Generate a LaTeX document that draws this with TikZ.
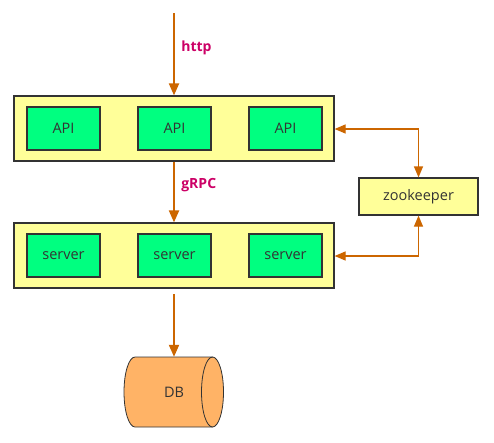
\documentclass[tikz,border=0pt]{standalone}
\usepackage{fontspec}
\setmainfont{Open Sans}
\usetikzlibrary{arrows.meta}
\definecolor{flow}{HTML}{CC6600}
\definecolor{tier}{HTML}{FFFF99}
\definecolor{unit}{HTML}{00FF80}
\definecolor{store}{HTML}{FFB366}
\definecolor{proto}{HTML}{CC0066}
\definecolor{ink}{HTML}{333333}
\tikzset{
  tierbox/.style={draw=ink, line width=1.2pt, fill=tier, minimum width=320pt, minimum height=65pt, inner sep=0pt},
  unitbox/.style={draw=ink, line width=1.2pt, fill=unit, minimum width=73pt, minimum height=43pt, inner sep=0pt, text=ink, font=\fontsize{14.5}{16}\selectfont},
  zkbox/.style={draw=ink, line width=1.2pt, fill=tier, minimum width=119pt, minimum height=37pt, inner sep=0pt, text=ink, font=\fontsize{14.5}{16}\selectfont},
  dblabel/.style={minimum width=99pt, minimum height=70pt, inner sep=0pt, text=ink, font=\fontsize{14.5}{16}\selectfont},
  mainflow/.style={draw=flow, line width=2pt, -{Triangle[length=12pt,width=10pt]}},
  zkflow/.style={draw=flow, line width=1.2pt, {Triangle[length=11pt,width=9pt]}-{Triangle[length=11pt,width=9pt]}},
  protolabel/.style={text=proto, font=\bfseries\fontsize{14}{16}\selectfont, anchor=west}
}
\begin{document}
\begin{tikzpicture}[x=1pt,y=-1pt]
\useasboundingbox (0,0) rectangle (494,442);
% gateway tier
\node[tierbox] (gw) at (174,128.5) {};
\node[unitbox] (api1) at (63.5,128.5) {API};
\node[unitbox] (api2) at (174.5,128.5) {API};
\node[unitbox] (api3) at (285.5,128.5) {API};
% service tier
\node[tierbox] (svc) at (174,255.5) {};
\node[unitbox] (srv1) at (63.5,255.5) {server};
\node[unitbox] (srv2) at (174.5,255.5) {server};
\node[unitbox] (srv3) at (285.5,255.5) {server};
% registry
\node[zkbox] (zk) at (418.5,196.5) {zookeeper};
% storage: horizontal cylinder with its open end on the right
\fill[store] (212.5,357) -- (135,357) arc[start angle=270, end angle=90, x radius=11, y radius=35]
  -- (212.5,427) arc[start angle=90, end angle=-90, x radius=11, y radius=35] -- cycle;
\draw[ink, line width=0.8pt] (212.5,357) -- (135,357) arc[start angle=270, end angle=90, x radius=11, y radius=35]
  -- (212.5,427);
\draw[ink, line width=0.8pt] (212.5,392) ellipse[x radius=11, y radius=35];
\node[dblabel] (db) at (174,392) {DB};
\coordinate (entry) at (174,13);
\coordinate (dbtop) at (174,294);
% requests
\draw[mainflow] (entry) -- (gw.north) node[protolabel, pos=0.42, xshift=3pt] {http};
\draw[mainflow] (gw.south) -- (svc.north) node[protolabel, pos=0.38, xshift=3pt] {gRPC};
\draw[mainflow] (dbtop) -- (db.north);
% registry links
\draw[zkflow] (gw.east |- 0,129) -| (zk.north);
\draw[zkflow] (svc.east |- 0,256) -| (zk.south);
\end{tikzpicture}
\end{document}
